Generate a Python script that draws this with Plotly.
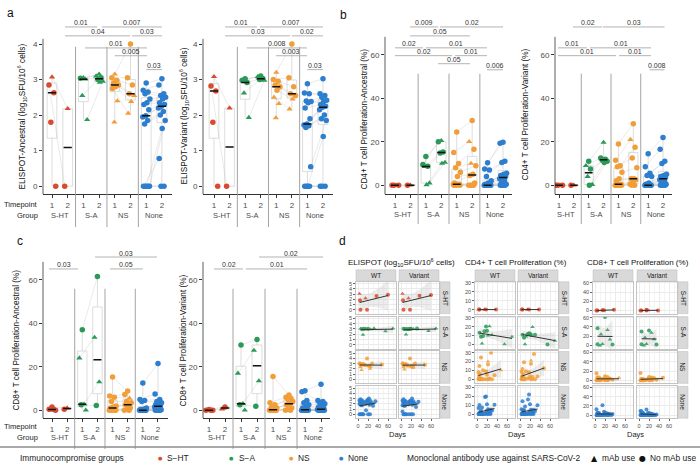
import numpy as np
import plotly.graph_objects as go

W, H = 700, 467
FONT = "Liberation Sans, Arial, sans-serif"

GROUPS = ["S-HT", "S-A", "NS", "None"]
LEGEND_GROUPS = ["S\u2212HT", "S\u2212A", "NS", "None"]
COLORS = ["#D84B2E", "#2B9A58", "#F29E38", "#2D7ECE"]
TIMEPOINT_LABELS = ["1", "2"]

# ---------------- box-panel data: order S-HT t1, S-HT t2, S-A t1, S-A t2, NS t1, NS t2, None t1, None t2
# mAb flags: T = mAb use (triangle), C = no mAb use (circle)
elispot_anc = [[3.07, 2.85, 2.63, 1.80, 0.0], [2.18, 0.0],
               [3.05, 3.04, 3.01, 2.55, 1.87], [3.15, 3.10, 3.05, 3.00, 2.95, 2.92],
               [3.15, 3.05, 2.98, 2.90, 2.85, 2.80, 2.75, 2.40, 1.80], [4.00, 3.05, 2.85, 2.60, 2.55, 2.38, 2.05],
               [2.90, 2.70, 2.65, 2.60, 2.45, 2.35, 2.30, 2.15, 1.98, 1.95, 1.85, 1.75, 0, 0, 0, 0, 0],
               [3.02, 2.85, 2.60, 2.55, 2.50, 2.45, 2.35, 2.30, 2.25, 2.20, 2.10, 2.00, 1.85, 1.62, 0.78, 0, 0]]
elispot_anc_mab = ["TCCCC", "TC", "TCTTT", "TTCCTT", "TCCCCCCTT", "CCCCTTT", "C" * 17, "C" * 17]

elispot_var = [[3.08, 2.82, 2.68, 1.80, 0.0], [2.20, 0.0],
               [3.02, 2.98, 2.92, 2.62, 1.93], [3.10, 3.08, 3.03, 3.00, 2.98, 3.02],
               [3.20, 3.00, 2.95, 2.85, 2.80, 2.70, 2.50, 2.32, 1.92], [4.00, 3.05, 2.80, 2.60, 2.55, 2.45, 2.17],
               [2.88, 2.62, 2.60, 2.40, 2.38, 2.35, 2.20, 1.90, 1.75, 1.72, 1.70, 1.65, 0.55, 0, 0, 0, 0],
               [3.02, 2.60, 2.55, 2.50, 2.42, 2.38, 2.30, 2.25, 2.22, 2.15, 2.00, 1.90, 1.85, 1.40, 0, 0, 0]]
elispot_var_mab = ["TCCCC", "TC", "CCCTT", "CTCCTC", "TCCCCCTTT", "CCCCCTT", "C" * 17, "C" * 17]

cd4_anc = [[0, 0, 0, 0, 0], [0, 0],
           [13.2, 9.5, 8.7, 8.5, 1.0, 0.2], [20.5, 20.0, 15.3, 14.8, 10.5, 10.0],
           [24.5, 15, 10, 8, 6, 4, 1, 0.5, 0.5, 0.3, 0, 0, 0, 0, 0], [29.8, 20, 16.5, 10, 9, 5, 4.5, 1, 0, 0, 0, 0],
           [10.3, 7.5, 7, 4, 2, 1, 0.5, 0, 0, 0, 0, 0, 0, 0, 0, 0, 0],
           [19.8, 19.3, 11, 10.5, 5.5, 5, 4.5, 4, 3.5, 3, 2, 1, 0.5, 0, 0, 0, 0]]
cd4_anc_mab = ["TCTCC", "TC", "CCCTTT", "TCCCTT", "CCCCCCCCCCTCCCC", "CTCTCCCCCCCC", "C" * 17, "C" * 17]

cd4_var = [[0, 0, 0, 0, 0], [0, 0],
           [11, 9, 7.5, 4, 0.3, 0], [19.7, 12.5, 12, 11.5, 11, 10.5],
           [19, 11.5, 9, 8.5, 6, 3, 2, 0.5, 0.3, 0, 0, 0, 0, 0, 0], [28.3, 21, 17.5, 12.5, 8, 3, 3, 2.5, 1, 0.5, 0, 0],
           [14.5, 8.5, 5.5, 4.5, 4, 1, 0.5, 0, 0, 0, 0, 0, 0, 0, 0, 0, 0],
           [22, 16.5, 11, 10, 5, 4.5, 4, 3.5, 3, 2.5, 2, 1, 0.5, 0, 0, 0, 0]]
cd4_var_mab = ["TCTCC", "TC", "CTCTTC", "TCCCCC", "C" * 15, "CTCCCCCCCCCC", "C" * 17, "C" * 17]

cd8_anc = [[1.5, 0.5, 0.3, 0, 0], [1.0, 0.5],
           [37, 24, 2.8, 2.5, 0], [61.5, 33.5, 13, 2.2],
           [15.3, 6.5, 6, 4, 2, 1.5, 1, 0.5, 0.3, 0, 0, 0, 0], [8.8, 7.2, 5.5, 4, 3.5, 2.5, 2.5, 1, 0.5, 0, 0],
           [12.5, 5, 4.5, 4, 1, 0.5, 0.3, 0, 0, 0, 0, 0, 0, 0, 0, 0, 0],
           [21.5, 7.5, 5, 4, 3.5, 3, 2.5, 2, 1.8, 1.5, 1, 0.5, 0.2, 0, 0, 0, 0]]
cd8_anc_mab = ["CCCTC", "TC", "CTTCT", "CTTC", "C" * 13, "CCTCCCCCCCC", "C" * 17, "C" * 17]

cd8_var = [[0.3, 0, 0, 0, 0], [1.5, 0.5],
           [30, 17, 3, 2.5, 0], [32.5, 27.5, 13.5, 1.8],
           [15.5, 3.5, 2.5, 1.5, 1, 0.5, 0.2, 0, 0, 0, 0, 0, 0], [7, 6, 5.5, 5, 4, 3, 2.5, 1, 0.5, 0, 0],
           [9, 8.5, 4.5, 3.5, 2.5, 1.5, 1, 0.5, 0.2, 0, 0, 0, 0, 0, 0, 0, 0],
           [12, 4.5, 4, 3.5, 3, 2, 1.5, 1, 0.5, 0.3, 0, 0, 0, 0, 0, 0, 0]]
cd8_var_mab = ["CCCTC", "CT", "CTTCT", "CTTC", "C" * 13, "C" * 11, "C" * 17, "C" * 17]

# days of each sample (same ordering as the value lists), used in panel d
elispot_days = [[3, 60, 37, 4, 5], [15, 18],
                [5, 12, 15, 55, 10], [32, 70, 20, 8, 25, 18],
                [4, 3, 8, 10, 12, 6, 14, 5, 7], [18, 28, 48, 22, 20, 25, 24],
                [5, 3, 8, 6, 10, 4, 7, 9, 5, 3, 6, 8, 3, 5, 7, 9, 11],
                [22, 20, 18, 25, 35, 16, 19, 21, 24, 17, 28, 15, 23, 30, 16, 20, 24]]
cd4_days = [[3, 38, 15, 4, 5], [15, 18],
            [5, 12, 8, 70, 10, 55], [25, 18, 20, 15, 30, 22],
            [8, 5, 12, 3, 6, 4, 7, 3, 5, 9, 4, 6, 8, 10, 5], [28, 22, 22, 48, 18, 20, 35, 25, 15, 20, 24, 30],
            [5, 10, 3, 8, 6, 9, 4, 3, 5, 7, 9, 11, 6, 4, 8, 10, 12],
            [18, 16, 20, 35, 22, 28, 25, 30, 19, 24, 21, 26, 17, 15, 23, 27, 20]]
cd8_days = [[38, 15, 3, 4, 5], [15, 18],
            [5, 12, 15, 5, 10], [20, 25, 30, 35],
            [3, 5, 8, 10, 15, 6, 4, 7, 9, 3, 5, 8, 12], [20, 25, 48, 30, 22, 28, 18, 35, 24, 20, 26],
            [3, 5, 8, 6, 10, 4, 7, 9, 5, 3, 6, 8, 11, 4, 7, 9, 12],
            [15, 18, 20, 22, 25, 28, 35, 19, 24, 30, 21, 26, 17, 16, 23, 27, 33]]

# significance brackets: (from x, to x, level, p-value label)
br_elispot_anc = [(1.83, 3.87, 4.48, "0.01"), (4.18, 8.0, 4.48, "0.007"), (1.83, 5.97, 4.23, "0.04"),
                  (6.1, 8.0, 4.23, "0.03"), (3.1, 7.05, 3.89, "0.01"), (5.0, 7.05, 3.67, "0.005"),
                  (7.0, 8.0, 3.28, "0.03")]
br_elispot_var = [(1.71, 3.76, 4.48, "0.01"), (3.95, 8.0, 4.48, "0.007"), (1.71, 5.88, 4.23, "0.03"),
                  (6.0, 8.0, 4.23, "0.02"), (3.1, 6.97, 3.89, "0.008"), (4.98, 6.97, 3.67, "0.003"),
                  (7.0, 8.0, 3.28, "0.03")]
br_cd4_anc = [(1.97, 3.79, 72.8, "0.009"), (3.92, 8.0, 72.8, "0.02"), (1.97, 5.86, 68.7, "0.05"),
              (1.0, 2.81, 63.2, "0.02"), (3.0, 6.96, 63.2, "0.01"), (1.0, 4.7, 59.6, "0.02"),
              (4.9, 6.96, 59.6, "0.01"), (3.79, 5.86, 55.9, "0.05"), (6.96, 8.0, 53.1, "0.006")]
br_cd4_var = [(1.94, 3.9, 72.8, "0.02"), (3.96, 8.1, 72.8, "0.03"), (0.93, 2.88, 63.2, "0.01"),
              (3.09, 7.19, 63.2, "0.01"), (0.93, 4.84, 59.6, "0.01"), (5.04, 7.19, 59.6, "0.01"),
              (7.1, 8.1, 53.1, "0.008")]
br_cd8_anc = [(0.8, 2.72, 65.0, "0.03"), (3.84, 7.93, 70.5, "0.03"), (4.83, 7.0, 65.0, "0.05")]
br_cd8_var = [(1.31, 3.13, 65.0, "0.02"), (4.13, 8.13, 70.5, "0.02"), (3.31, 7.13, 65.0, "0.01")]

ELIS_T = "ELISPOT-{} (log<sub>10</sub>SFU/10<sup>6</sup> cells)"

BOX_PANELS = [
    dict(data=elispot_anc, mab=elispot_anc_mab, br=br_elispot_anc, l=43, r=172, t=12, b=193, c1=52, sp=15.7,
         y0=185, ppu=35.7, axtop=37, yt=[0, 1, 2, 3, 4], ylab=ELIS_T.format("Ancestral"), lx=22, ly=115,
         gy=214, sep=(45, 226), rowlab=True),
    dict(data=elispot_var, mab=elispot_var_mab, br=br_elispot_var, l=203, r=333, t=12, b=193, c1=214, sp=15.57,
         y0=185, ppu=35.7, axtop=37, yt=[0, 1, 2, 3, 4], ylab=ELIS_T.format("Variant"), lx=184, ly=115,
         gy=214, sep=(45, 226), rowlab=False),
    dict(data=cd4_anc, mab=cd4_anc_mab, br=br_cd4_anc, l=385, r=512, t=12, b=193, c1=395, sp=15.43,
         y0=184, ppu=2.183, axtop=35, yt=[0, 20, 40, 60], ylab="CD4+ T cell Proliferation-Ancestral (%)",
         lx=364, ly=118, gy=213, sep=(72, 223), rowlab=False),
    dict(data=cd4_var, mab=cd4_var_mab, br=br_cd4_var, l=555, r=672, t=12, b=193, c1=559, sp=14.86,
         y0=184, ppu=2.183, axtop=35, yt=[0, 20, 40, 60], ylab="CD4+ T cell Proliferation-Variant (%)",
         lx=526, ly=113, gy=213, sep=(72, 223), rowlab=False),
    dict(data=cd8_anc, mab=cd8_anc_mab, br=br_cd8_anc, l=43, r=168, t=245, b=418, c1=52, sp=15.14,
         y0=410, ppu=2.183, axtop=261, yt=[0, 20, 40, 60], ylab="CD8+ T cell Proliferation-Ancestral (%)",
         lx=17, ly=340, gy=437, sep=(288, 449), rowlab=True),
    dict(data=cd8_var, mab=cd8_var_mab, br=br_cd8_var, l=203, r=330, t=245, b=418, c1=209, sp=16.0,
         y0=410, ppu=2.183, axtop=261, yt=[0, 20, 40, 60], ylab="CD8+ T cell Proliferation-Variant (%)",
         lx=184, ly=340, gy=437, sep=(288, 449), rowlab=False),
]

fig = go.Figure()
axes = {}
shapes = []
ann = []
count = [0]


def px(x):
    return x / W


def py(y):
    return 1 - y / H


def A(**kw):
    kw.setdefault("xanchor", "center")
    kw.setdefault("yanchor", "middle")
    kw.setdefault("showarrow", False)
    kw.setdefault("xref", "paper")
    kw.setdefault("yref", "paper")
    ann.append(kw)


def new_axes(xd, yd, xr, yr, xo, yo):
    count[0] += 1
    k = count[0]
    s = "" if k == 1 else str(k)
    axes["xaxis" + s] = dict(domain=[px(xd[0]), px(xd[1])], range=xr, anchor="y" + s, **xo)
    axes["yaxis" + s] = dict(domain=[py(yd[1]), py(yd[0])], range=yr, anchor="x" + s, **yo)
    return "x" + s, "y" + s


def jitter(i):
    return (((i * 0.6180339887) + 0.5) % 1.0 - 0.5) * 0.5


TXT = "#4D4D4D"

for P in BOX_PANELS:
    xr = [1 + (P["l"] - P["c1"]) / P["sp"], 1 + (P["r"] - P["c1"]) / P["sp"]]
    yr = [(P["y0"] - P["b"]) / P["ppu"], (P["y0"] - P["t"]) / P["ppu"]]
    xo = dict(showgrid=False, zeroline=False, showline=True, linecolor="#333333", linewidth=0.8,
              ticks="outside", ticklen=3, tickcolor="#333333", tickvals=list(range(1, 9)),
              ticktext=TIMEPOINT_LABELS * 4, tickfont=dict(size=8, color=TXT, family=FONT))
    yo = dict(showgrid=False, zeroline=False, showline=False, ticks="outside", ticklen=3,
              tickcolor="#333333", tickvals=P["yt"], tickfont=dict(size=8, color=TXT, family=FONT))
    xa, ya = new_axes((P["l"], P["r"]), (P["t"], P["b"]), xr, yr, xo, yo)
    data, mab = P["data"], P["mab"]
    # paired lines
    for g in range(4):
        a, b = data[2 * g], data[2 * g + 1]
        lx, ly = [], []
        for i in range(min(len(a), len(b))):
            lx += [2 * g + 1 + jitter(i), 2 * g + 2 + jitter(i), None]
            ly += [a[i], b[i], None]
        fig.add_trace(go.Scatter(x=lx, y=ly, mode="lines", line=dict(color="rgba(175,175,175,0.45)", width=0.6),
                                 xaxis=xa, yaxis=ya, hoverinfo="skip", showlegend=False))
    for k in range(8):
        pos = k + 1
        vals = data[k]
        col = COLORS[k // 2]
        fig.add_trace(go.Box(x=[pos] * len(vals), y=vals, width=0.62, boxpoints=False, whiskerwidth=0,
                             line=dict(color="#CFCFCF", width=0.7), fillcolor="rgba(255,255,255,0)",
                             xaxis=xa, yaxis=ya, hoverinfo="skip", showlegend=False))
        xs = [pos + jitter(i) for i in range(len(vals))]
        sym = ["triangle-up" if f == "T" else "circle" for f in mab[k]]
        fig.add_trace(go.Scatter(x=xs, y=vals, mode="markers",
                                 marker=dict(color=col, size=5.5, symbol=sym, line=dict(width=0)),
                                 xaxis=xa, yaxis=ya, hoverinfo="skip", showlegend=False))
        med = float(np.median(vals))
        fig.add_trace(go.Scatter(x=[pos - 0.26, pos + 0.26], y=[med, med], mode="lines",
                                 line=dict(color="#111111", width=1.5), xaxis=xa, yaxis=ya,
                                 hoverinfo="skip", showlegend=False))
    # y axis line
    shapes.append(dict(type="line", xref="paper", yref="paper", x0=px(P["l"]), x1=px(P["l"]),
                       y0=py(P["b"]), y1=py(P["axtop"]), line=dict(color="#333333", width=0.8)))
    # separators
    for sx in (2.5, 4.5, 6.5):
        shapes.append(dict(type="line", xref=xa, yref="paper", x0=sx, x1=sx, y0=py(P["sep"][1]),
                           y1=py(P["sep"][0]), line=dict(color="#9A9A9A", width=0.9)))
    # brackets
    for (x0, x1, lev, lab) in P["br"]:
        shapes.append(dict(type="line", xref=xa, yref=ya, x0=x0, x1=x1, y0=lev, y1=lev,
                           line=dict(color="#AAAAAA", width=0.9)))
        A(x=(x0 + x1) / 2, y=lev, xref=xa, yref=ya, text=lab, yanchor="bottom", yshift=-1.5,
          font=dict(size=7, color="#333333", family=FONT))
    # group labels
    for g in range(4):
        A(x=2 * g + 1.5, y=py(P["gy"]), xref=xa, text=GROUPS[g], font=dict(size=7.5, color=TXT, family=FONT))
    if P["rowlab"]:
        A(x=px(40), y=py(P["gy"] - 11), text="Timepoint", xanchor="right",
          font=dict(size=7.5, color="#222222", family=FONT))
        A(x=px(40), y=py(P["gy"]), text="Group", xanchor="right",
          font=dict(size=7.5, color="#222222", family=FONT))
    A(x=px(P["lx"]), y=py(P["ly"]), text=P["ylab"], textangle=-90,
      font=dict(size=8.2, color="#111111", family=FONT))

# ---------------- panel d: facets
FACETS = [
    dict(title="ELISPOT (log<sub>10</sub>SFU/10<sup>6</sup> cells)", tx=401, cols=[(356, 396), (399, 439)],
         strip=(440, 450), data=[elispot_anc, elispot_var], mab=[elispot_anc_mab, elispot_var_mab],
         days=elispot_days, yr=[-0.75, 5.35], yt=[0, 1, 2, 3, 4, 5]),
    dict(title="CD4+ T cell Proliferation (%)", tx=516, cols=[(475, 515), (518, 558)],
         strip=(559, 569), data=[cd4_anc, cd4_var], mab=[cd4_anc_mab, cd4_var_mab],
         days=cd4_days, yr=[-4.6, 31.2], yt=[0, 10, 20, 30]),
    dict(title="CD8+ T cell Proliferation (%)", tx=638, cols=[(593, 633), (637, 677)],
         strip=(678, 688), data=[cd8_anc, cd8_var], mab=[cd8_anc_mab, cd8_var_mab],
         days=cd8_days, yr=[-6.7, 62.2], yt=[0, 20, 40, 60]),
]
ROWS = [(281, 313), (316, 348), (351, 383), (386, 418)]
COL_NAMES = ["WT", "Variant"]
DAY_TICKS = [0, 20, 40, 60]
STRIP_FILL = "#D9D9D9"


def tcrit(df):
    table = {1: 12.71, 2: 4.30, 3: 3.18, 4: 2.78, 5: 2.57, 6: 2.45, 7: 2.36, 8: 2.31, 9: 2.26, 10: 2.23}
    return table.get(df, 1.96 + 2.6 / df)


for F in FACETS:
    for ci, (c0, c1) in enumerate(F["cols"]):
        for ri, (r0, r1) in enumerate(ROWS):
            xo = dict(showgrid=True, gridcolor="#EBEBEB", gridwidth=0.5, zeroline=False, showline=True,
                      mirror=True, linecolor="#C4C4C4", linewidth=0.7, tickvals=DAY_TICKS,
                      minor=dict(showgrid=True, gridcolor="#F4F4F4", gridwidth=0.4, dtick=10),
                      ticks="outside" if ri == 3 else "", ticklen=2, tickcolor="#666666",
                      showticklabels=(ri == 3), tickfont=dict(size=5.5, color=TXT, family=FONT))
            yo = dict(showgrid=True, gridcolor="#EBEBEB", gridwidth=0.5, zeroline=False, showline=True,
                      mirror=True, linecolor="#C4C4C4", linewidth=0.7, tickvals=F["yt"],
                      ticks="outside" if ci == 0 else "", ticklen=2, tickcolor="#666666",
                      showticklabels=(ci == 0), tickfont=dict(size=5.5, color=TXT, family=FONT))
            xa, ya = new_axes((c0, c1), (r0, r1), [-4, 76], F["yr"], xo, yo)
            vals = F["data"][ci][2 * ri] + F["data"][ci][2 * ri + 1]
            days = F["days"][2 * ri] + F["days"][2 * ri + 1]
            flags = F["mab"][ci][2 * ri] + F["mab"][ci][2 * ri + 1]
            xarr = np.array(days, float)
            yarr = np.array(vals, float)
            n = len(xarr)
            b1, b0 = np.polyfit(xarr, yarr, 1)
            xs = np.linspace(xarr.min(), xarr.max(), 40)
            fit = b0 + b1 * xs
            resid = yarr - (b0 + b1 * xarr)
            s = np.sqrt(np.sum(resid ** 2) / max(n - 2, 1))
            sxx = np.sum((xarr - xarr.mean()) ** 2)
            se = s * np.sqrt(1.0 / n + (xs - xarr.mean()) ** 2 / sxx)
            tc = tcrit(n - 2)
            up, lo = fit + tc * se, fit - tc * se
            fig.add_trace(go.Scatter(x=list(xs) + list(xs[::-1]), y=list(up) + list(lo[::-1]), fill="toself",
                                     fillcolor="rgba(200,200,200,0.35)", line=dict(width=0), mode="lines",
                                     xaxis=xa, yaxis=ya, hoverinfo="skip", showlegend=False))
            sym = ["triangle-up" if f == "T" else "circle" for f in flags]
            fig.add_trace(go.Scatter(x=days, y=vals, mode="markers",
                                     marker=dict(color=COLORS[ri], size=4, symbol=sym, opacity=0.85,
                                                 line=dict(width=0)),
                                     xaxis=xa, yaxis=ya, hoverinfo="skip", showlegend=False))
            fig.add_trace(go.Scatter(x=xs, y=fit, mode="lines", line=dict(color="#333333", width=1),
                                     xaxis=xa, yaxis=ya, hoverinfo="skip", showlegend=False))
            if ri == 0:
                shapes.append(dict(type="rect", xref="paper", yref="paper", x0=px(c0), x1=px(c1),
                                   y0=py(280), y1=py(269), fillcolor=STRIP_FILL,
                                   line=dict(color="#BDBDBD", width=0.5)))
                A(x=px((c0 + c1) / 2), y=py(274.5), text=COL_NAMES[ci],
                  font=dict(size=6.5, color="#1A1A1A", family=FONT))
            if ci == 1:
                s0, s1 = F["strip"]
                shapes.append(dict(type="rect", xref="paper", yref="paper", x0=px(s0), x1=px(s1),
                                   y0=py(r1), y1=py(r0), fillcolor=STRIP_FILL,
                                   line=dict(color="#BDBDBD", width=0.5)))
                A(x=px((s0 + s1) / 2), y=py((r0 + r1) / 2), text=GROUPS[ri], textangle=90,
                  font=dict(size=6.5, color="#1A1A1A", family=FONT))
    A(x=px(F["tx"]), y=py(262), text=F["title"], font=dict(size=8, color="#111111", family=FONT))
    A(x=px((F["cols"][0][0] + F["cols"][1][1]) / 2), y=py(434), text="Days",
      font=dict(size=7.5, color="#222222", family=FONT))

# panel letters
for lab, x, y in [("a", 10, 11), ("b", 343, 13), ("c", 20, 240), ("d", 342, 240)]:
    A(x=px(x), y=py(y), text=lab, font=dict(size=12, color="#111111", family=FONT))

# bottom legend
shapes.append(dict(type="line", xref="paper", yref="paper", x0=0, x1=1, y0=py(447), y1=py(447),
                   line=dict(color="#8C8C8C", width=1.5)))
LY = 458
LF = dict(size=8.4, color="#222222", family=FONT)
A(x=px(18), y=py(LY), text="Immunocompromise groups", xanchor="left", font=LF)
for g, (dx, tx) in enumerate([(160, 165), (232, 237), (291, 296), (341, 346)]):
    A(x=px(dx), y=py(LY), text="\u25CF", font=dict(size=5, color=COLORS[g], family="DejaVu Sans"))
    A(x=px(tx), y=py(LY), text=LEGEND_GROUPS[g], xanchor="left", font=LF)
A(x=px(405), y=py(LY), text="Monoclonal antibody use against SARS-CoV-2", xanchor="left", font=LF)
A(x=px(594), y=py(LY), text="\u25B2", font=dict(size=8, color="#111111", family="DejaVu Sans"))
A(x=px(600), y=py(LY), text="mAb use", xanchor="left", font=LF)
A(x=px(642), y=py(LY), text="\u25CF", font=dict(size=8, color="#111111", family="DejaVu Sans"))
A(x=px(648), y=py(LY), text="No mAb use", xanchor="left", font=LF)

fig.update_layout(width=W, height=H, margin=dict(l=0, r=0, t=0, b=0), paper_bgcolor="white",
                  plot_bgcolor="white", showlegend=False, boxmode="overlay", shapes=shapes, annotations=ann,
                  font=dict(family=FONT), **axes)
fig.write_html("out.html", config={"displayModeBar": False},
               post_script="document.body.style.margin='0px';document.body.style.overflow='hidden';")
